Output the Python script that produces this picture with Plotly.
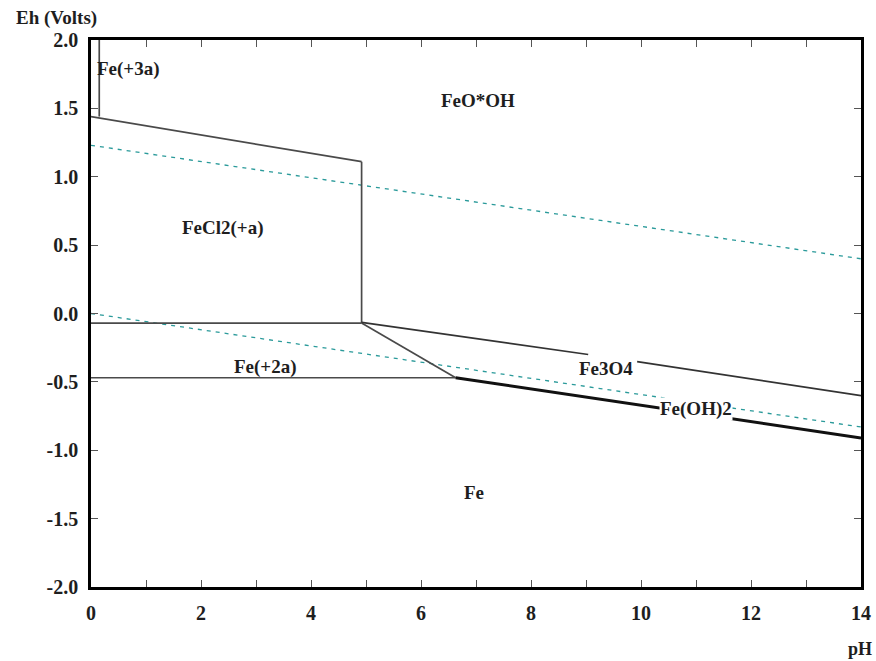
import plotly.graph_objects as go

# ---- data (pH, Eh) ----
fe3_fe2_ph = [0.15, 0.15]
fe3_fe2_eh = [2.0, 1.44]

upper_ph = [0.0, 4.92]
upper_eh = [1.44, 1.11]

vert_ph = [4.92, 4.92]
vert_eh = [1.11, -0.07]

fecl2_fe2_ph = [0.0, 4.92]
fecl2_fe2_eh = [-0.07, -0.07]

fe2_fe_ph = [0.0, 6.63]
fe2_fe_eh = [-0.47, -0.47]

fe2_fe3o4_ph = [4.92, 6.63]
fe2_fe3o4_eh = [-0.07, -0.47]

fe3o4_feooh_ph = [4.92, 9.04, None, 9.93, 14.0]
fe3o4_feooh_eh = [-0.065, -0.30, None, -0.352, -0.60]

feoh2_fe_ph = [6.63, 14.0]
feoh2_fe_eh = [-0.47, -0.91]

water_up_ph = [0.0, 14.0]
water_up_eh = [1.23, 0.40]
water_lo_ph = [0.0, 14.0]
water_lo_eh = [0.0, -0.83]

labels = ["Fe(+3a)", "FeO*OH", "FeCl2(+a)", "Fe(+2a)", "Fe3O4", "Fe(OH)2", "Fe"]
label_ph = [0.69, 7.03, 2.4, 3.18, 9.37, 11.0, 6.97]
label_eh = [1.79, 1.56, 0.625, -0.39, -0.40, -0.70, -1.31]

x_tickvals = [0, 2, 4, 6, 8, 10, 12, 14]
x_ticktext = ["0", "2", "4", "6", "8", "10", "12", "14"]
y_tickvals = [2.0, 1.5, 1.0, 0.5, 0.0, -0.5, -1.0, -1.5, -2.0]
y_ticktext = ["2.0", "1.5", "1.0", "0.5", "0.0", "-0.5", "-1.0", "-1.5", "-2.0"]

GRAY = "#4a4a4a"
TEAL = "#2a9a9a"
FONT = "Liberation Serif"
TXT = "#1e1e1e"

fig = go.Figure()

def add_line(xs, ys, color=GRAY, width=1.7, dash="solid"):
    fig.add_trace(go.Scatter(x=xs, y=ys, mode="lines",
                             line=dict(color=color, width=width, dash=dash),
                             hoverinfo="skip", showlegend=False))

add_line(water_up_ph, water_up_eh, TEAL, 1.3, "4px,5px")
add_line(water_lo_ph, water_lo_eh, TEAL, 1.3, "4px,5px")
add_line(fe3_fe2_ph, fe3_fe2_eh)
add_line(upper_ph, upper_eh)
add_line(vert_ph, vert_eh)
add_line(fecl2_fe2_ph, fecl2_fe2_eh)
add_line(fe2_fe_ph, fe2_fe_eh)
add_line(fe2_fe3o4_ph, fe2_fe3o4_eh)
add_line(fe3o4_feooh_ph, fe3o4_feooh_eh, "#333333", 1.7)
add_line(feoh2_fe_ph, feoh2_fe_eh, "#111111", 3)

for t, x, y in zip(labels, label_ph, label_eh):
    fig.add_annotation(x=x, y=y, text=t, showarrow=False,
                       font=dict(family=FONT, size=19, color=TXT, weight="bold"),
                       bgcolor="white" if t == "Fe(OH)2" else "rgba(0,0,0,0)",
                       borderpad=0)

fig.add_annotation(xref="paper", yref="paper", x=-0.1, y=1.04,
                   xanchor="left", yanchor="middle", text="Eh (Volts)",
                   showarrow=False,
                   font=dict(family=FONT, size=19, color=TXT, weight="bold"))
fig.add_annotation(xref="paper", yref="paper", x=0.999, y=-0.113,
                   xanchor="center", yanchor="middle", text="pH",
                   showarrow=False,
                   font=dict(family=FONT, size=18, color=TXT, weight="bold"))

fig.update_layout(
    width=876, height=661,
    margin=dict(l=91, r=15, t=40, b=74, autoexpand=False),
    plot_bgcolor="white", paper_bgcolor="white",
    xaxis=dict(range=[0, 14], tickvals=x_tickvals, ticktext=x_ticktext,
               automargin=False,
               ticks="inside", ticklen=7, tickcolor="#555",
               minor=dict(dtick=1, ticks="inside", ticklen=7, tickcolor="#555"),
               showgrid=False, zeroline=False, showline=True, linecolor="black",
               linewidth=2.5, mirror="ticks", ticklabelstandoff=6,
               tickfont=dict(family=FONT, size=20, color=TXT, weight="bold")),
    yaxis=dict(range=[-2.0, 2.0], tickvals=y_tickvals, ticktext=y_ticktext,
               automargin=False,
               ticks="inside", ticklen=7, tickcolor="#555",
               showgrid=False, zeroline=False, showline=True, linecolor="black",
               linewidth=2.5, mirror="ticks", ticklabelstandoff=6,
               tickfont=dict(family=FONT, size=20, color=TXT, weight="bold")),
)

fig.write_html("out.html", config={"displayModeBar": False},
               post_script="document.body.style.margin='0';document.body.style.overflow='hidden';")
